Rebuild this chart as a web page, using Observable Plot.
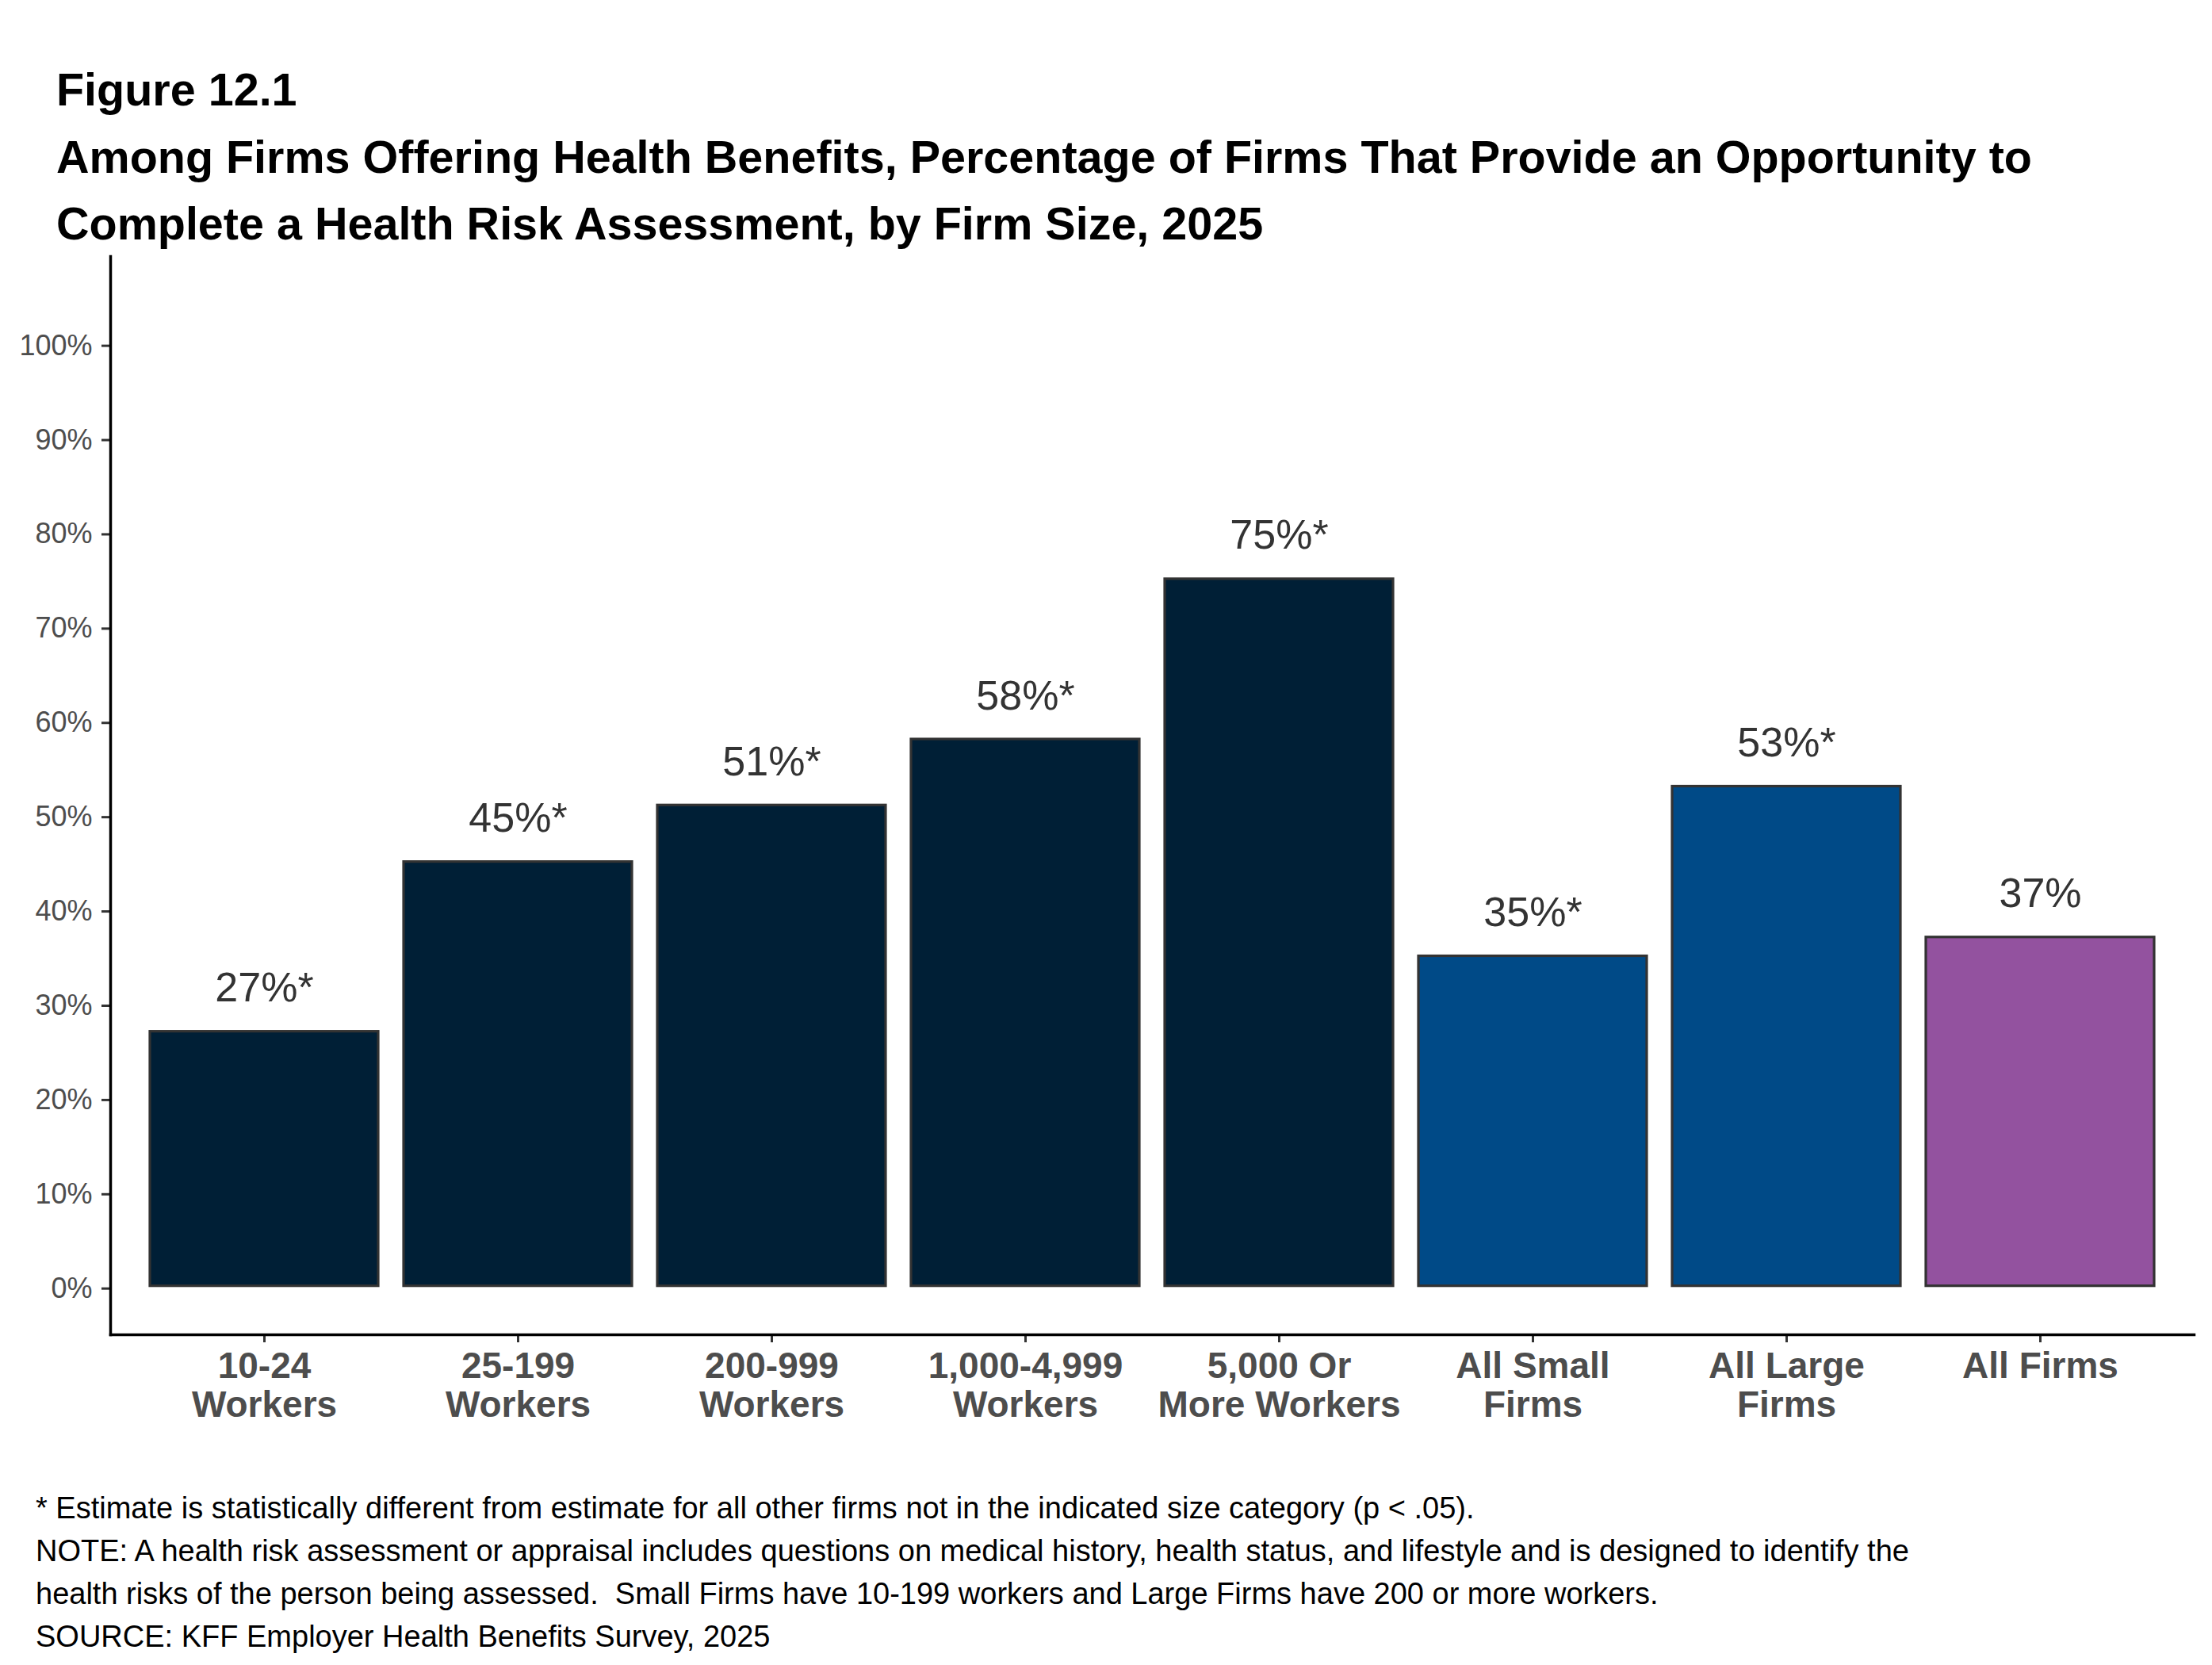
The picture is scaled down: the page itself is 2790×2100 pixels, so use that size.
<!DOCTYPE html>
<html>
<head>
<meta charset="utf-8">
<script src="https://cdn.jsdelivr.net/npm/d3@7"></script>
<script src="https://cdn.jsdelivr.net/npm/@observablehq/plot@0.6"></script>
<style>
  html, body { margin: 0; padding: 0; background: #fff; }
  body { width: 2790px; height: 2100px; position: relative; overflow: hidden; font-family: "Liberation Sans", Arial, sans-serif; }
  #title { position: absolute; left: 71px; top: 71px; font-weight: bold; font-size: 57.5px; line-height: 84.5px; color: #000; white-space: nowrap; z-index: 2; }
  #chart { position: absolute; left: 0; top: 300px; z-index: 1; }
  #caption { position: absolute; left: 45px; top: 1875px; font-size: 38px; line-height: 54px; color: #000; white-space: nowrap; z-index: 2; }
</style>
</head>
<body>
<div id="title">Figure 12.1<br>Among Firms Offering Health Benefits, Percentage of Firms That Provide an Opportunity to<br>Complete a Health Risk Assessment, by Firm Size, 2025</div>
<div id="chart"></div>
<div id="caption">* Estimate is statistically different from estimate for all other firms not in the indicated size category (p &lt; .05).<br>NOTE: A health risk assessment or appraisal includes questions on medical history, health status, and lifestyle and is designed to identify the<br>health risks of the person being assessed.&nbsp; Small Firms have 10-199 workers and Large Firms have 200 or more workers.<br>SOURCE: KFF Employer Health Benefits Survey, 2025</div>
<script>
const categories = ["10-24 Workers", "25-199 Workers", "200-999 Workers", "1,000-4,999 Workers", "5,000 Or More Workers", "All Small Firms", "All Large Firms", "All Firms"];
const tickLabels = ["10-24\nWorkers", "25-199\nWorkers", "200-999\nWorkers", "1,000-4,999\nWorkers", "5,000 Or\nMore Workers", "All Small\nFirms", "All Large\nFirms", "All Firms"];
const values = [27, 45, 51, 58, 75, 35, 53, 37];
const significant = [true, true, true, true, true, true, true, false];
const groups = ["Size", "Size", "Size", "Size", "Size", "Small/Large", "Small/Large", "All"];
const groupDomain = ["Size", "Small/Large", "All"];
const groupColors = ["#001F36", "#004A87", "#93529F"];
const yTicks = [0, 10, 20, 30, 40, 50, 60, 70, 80, 90, 100];

const data = categories.map((c, i) => ({
  category: c,
  value: values[i],
  group: groups[i],
  label: values[i] + "%" + (significant[i] ? "*" : "")
}));
const tickLabelOf = new Map(categories.map((c, i) => [c, tickLabels[i]]));

const chart = Plot.plot({
  width: 2790,
  height: 1560,
  marginTop: 23,
  marginBottom: 177,
  marginLeft: 139,
  marginRight: 23,
  style: { fontFamily: "'Liberation Sans', Arial, sans-serif", background: "transparent", overflow: "visible" },
  x: { domain: categories, paddingInner: 0.1, paddingOuter: 0.15, label: null },
  y: { domain: [-5.156, 109.22], label: null },
  color: { type: "ordinal", domain: groupDomain, range: groupColors },
  marks: [
    Plot.barY(data, { x: "category", y: "value", fill: "group", stroke: "#333333", strokeWidth: 3.2 }),
    Plot.text(data, { x: "category", y: "value", text: "label", lineAnchor: "bottom", dy: -38, fontSize: 52, fill: "#333333" }),
    Plot.axisY({ ticks: yTicks, tickFormat: d => d + "%", tickSize: 11, tickPadding: 12, fontSize: 36, fill: "#4D4D4D", stroke: "#333333", strokeWidth: 3, dy: 3, label: null }),
    Plot.axisX({ tickFormat: d => tickLabelOf.get(d), tickSize: 10, tickPadding: 10, fontSize: 46, fontWeight: "bold", lineHeight: 1.065, fill: "#4D4D4D", stroke: "#333333", strokeWidth: 3, label: null }),
    Plot.frame({ anchor: "left", stroke: "#000", strokeWidth: 3.5 }),
    Plot.frame({ anchor: "bottom", stroke: "#000", strokeWidth: 3.5 })
  ]
});
document.getElementById("chart").appendChild(chart);
</script>
</body>
</html>
